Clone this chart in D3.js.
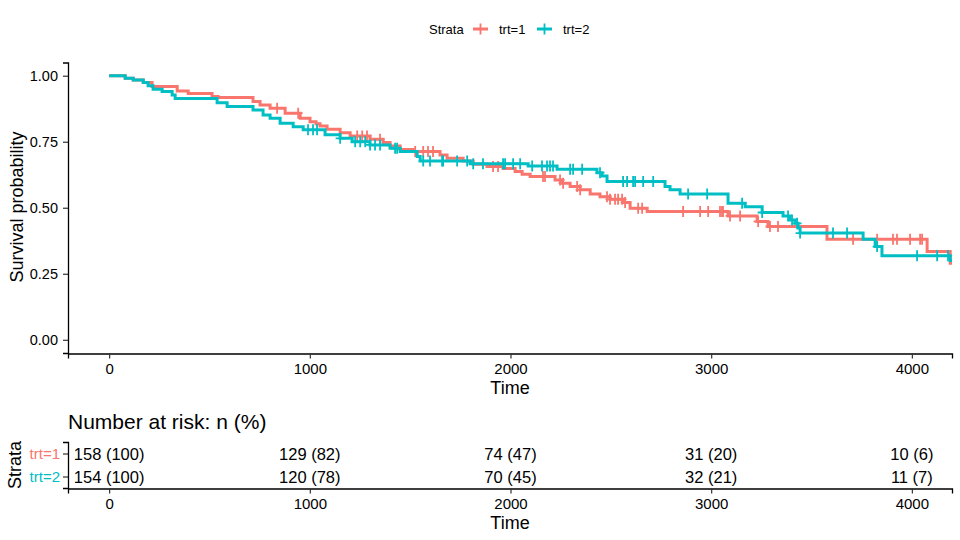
<!DOCTYPE html>
<html>
<head>
<meta charset="utf-8">
<script src="https://cdn.jsdelivr.net/npm/d3@7"></script>
<style>
body { margin: 0; background: #fff; }
svg { font-family: "Liberation Sans", Arial, sans-serif; }
</style>
</head>
<body>
<svg id="chart" width="960" height="540"></svg>
<script>
const strata = ['trt=1', 'trt=2'];
const colors = ['#F8766D', '#00BFC4'];
const xTicks = [0, 1000, 2000, 3000, 4000];
const yTicks = [0, 0.25, 0.5, 0.75, 1];

// step times and survival after each step
const trt1Time = [0, 80, 120, 170, 214, 339, 394, 513, 543, 717, 752, 802, 877, 952, 1001, 1031, 1051, 1086, 1151, 1201,
    1300, 1365, 1400, 1450, 1515, 1649, 1684, 1764, 1814, 1883, 1963, 2023, 2058, 2098, 2222, 2257, 2297, 2347, 2397, 2446,
    2496, 2561, 2596, 2681, 3084, 3229, 3283, 3577, 4076, 4191];
const trt1Surv = [1, 0.99, 0.984, 0.974, 0.959, 0.942, 0.933, 0.921, 0.917, 0.902, 0.889, 0.877, 0.858, 0.839, 0.826, 0.818, 0.81, 0.797, 0.784, 0.772,
    0.759, 0.747, 0.734, 0.721, 0.713, 0.70, 0.687, 0.677, 0.665, 0.656, 0.649, 0.637, 0.627, 0.618, 0.605, 0.593, 0.58, 0.568, 0.552, 0.542,
    0.532, 0.52, 0.498, 0.486, 0.469, 0.448, 0.429, 0.381, 0.334, 0.29];
const trt1Censor = [837, 942, 1236, 1261, 1285, 1350, 1525, 1565, 1589, 1614, 1913, 1938, 2162, 2172, 2247, 2262, 2332, 2347,
    2481, 2496, 2521, 2536, 2556, 2571, 2636, 2656, 2860, 2945, 2985, 3044, 3054, 3059, 3094, 3144, 3234, 3293, 3333,
    3707, 3827, 3906, 3926, 3991, 4041, 4051];

const trt2Time = [0, 80, 120, 170, 194, 219, 264, 314, 329, 538, 588, 717, 767, 802, 852, 917, 967, 1076, 1151, 1211,
    1300, 1400, 1450, 1535, 1550, 1799, 2088, 2232, 2431, 2456, 2481, 2770, 2795, 2845, 3084, 3169, 3254, 3358, 3393, 3418,
    3433, 3443, 3757, 3817, 3851, 4191];
const trt2Surv = [1, 0.99, 0.984, 0.974, 0.962, 0.949, 0.94, 0.927, 0.914, 0.898, 0.883, 0.87, 0.851, 0.839, 0.82, 0.807, 0.795, 0.776, 0.763, 0.75,
    0.738, 0.725, 0.713, 0.694, 0.677, 0.667, 0.658, 0.646, 0.633, 0.62, 0.599, 0.58, 0.568, 0.552, 0.517, 0.504, 0.482, 0.469, 0.454, 0.441,
    0.423, 0.404, 0.381, 0.353, 0.318, 0.30];
const trt2Censor = [991, 1016, 1036, 1151, 1226, 1251, 1276, 1300, 1325, 1350, 1425, 1435, 1565, 1599, 1659, 1664, 1734, 1784,
    1814, 1863, 1963, 1973, 2013, 2048, 2108, 2157, 2182, 2197, 2212, 2297, 2312, 2357, 2446, 2561, 2581, 2611, 2621, 2661,
    2711, 2885, 2980, 3154, 3254, 3383, 3403, 3428, 3443, 3607, 3677, 3827, 4026, 4126, 4180];

// number at risk table
const riskTimes = [0, 1000, 2000, 3000, 4000];
const risk1N = [158, 129, 74, 31, 10];
const risk1Pct = [100, 82, 47, 20, 6];
const risk2N = [154, 120, 70, 32, 11];
const risk2Pct = [100, 78, 45, 21, 7];

const curves = [
    { time: trt1Time, surv: trt1Surv, censor: trt1Censor },
    { time: trt2Time, surv: trt2Surv, censor: trt2Censor }
];
const risks = [
    { n: risk1N, pct: risk1Pct },
    { n: risk2N, pct: risk2Pct }
];

const svg = d3.select('#chart');

const x = d3.scaleLinear().domain([-205, 4200]).range([68, 952]);
const y = d3.scaleLinear().domain([-0.05, 1.05]).range([353, 62.5]);

// clip path for panel
svg.append('clipPath')
    .attr('id', 'panel')
    .append('rect')
    .attr('x', 68).attr('y', 62.5)
    .attr('width', 884).attr('height', 290.5);

const styleAxis = size => g => {
    g.select('.domain').attr('stroke', '#000').attr('stroke-width', 1.3);
    g.selectAll('.tick line').attr('stroke', '#333').attr('stroke-width', 1.2);
    g.selectAll('.tick text').attr('fill', '#000').style('font-size', size + 'px');
};

// main axes
svg.append('g')
    .attr('transform', 'translate(0,353.5)')
    .call(d3.axisBottom(x).tickValues(xTicks).tickFormat(d3.format('d')).tickSizeOuter(0).tickSize(5).tickPadding(5))
    .call(styleAxis(15));

svg.append('g')
    .attr('transform', 'translate(68,0)')
    .call(d3.axisLeft(y).tickValues(yTicks).tickFormat(d3.format('.2f')).tickSizeOuter(0).tickSize(5).tickPadding(5))
    .call(styleAxis(14.5));

svg.append('text')
    .attr('x', 510).attr('y', 388)
    .attr('text-anchor', 'middle').attr('dominant-baseline', 'central')
    .style('font-size', '18px')
    .text('Time');

svg.append('text')
    .attr('transform', 'translate(17,207)rotate(-90)')
    .attr('text-anchor', 'middle').attr('dominant-baseline', 'central')
    .style('font-size', '18px')
    .text('Survival probability');

// curves
const line = d3.line()
    .x(d => x(d[0]))
    .y(d => y(d[1]))
    .curve(d3.curveStepAfter);

const plot = svg.append('g').attr('clip-path', 'url(#panel)');
const cross = 'M-4.5,0H4.5M0,-5.5V5.5';

curves.forEach((c, i) => {
    const pts = c.time.map((t, k) => [t, c.surv[k]]);
    pts.push([4400, c.surv[c.surv.length - 1]]);

    plot.append('path')
        .datum(pts)
        .attr('fill', 'none')
        .attr('stroke', colors[i])
        .attr('stroke-width', 3)
        .attr('d', line);

    const survAt = t => c.surv[d3.bisectRight(c.time, t) - 1];

    plot.append('g')
        .selectAll('path')
        .data(c.censor)
        .enter().append('path')
        .attr('transform', t => `translate(${x(t)},${y(survAt(t))})`)
        .attr('d', cross)
        .attr('stroke', colors[i])
        .attr('stroke-width', 1.8)
        .attr('fill', 'none');
});

// legend
const legend = svg.append('g').style('font-size', '13px');
legend.append('text')
    .attr('x', 429).attr('y', 29)
    .attr('dominant-baseline', 'central')
    .text('Strata');
const keyX = [473, 537];
strata.forEach((s, i) => {
    const k = legend.append('g').attr('transform', `translate(${keyX[i]},29)`);
    k.append('line')
        .attr('x1', 0).attr('x2', 15)
        .attr('stroke', colors[i]).attr('stroke-width', 3);
    k.append('path')
        .attr('transform', 'translate(7.5,0)')
        .attr('d', cross)
        .attr('stroke', colors[i]).attr('stroke-width', 1.8);
    k.append('text')
        .attr('x', 26).attr('dominant-baseline', 'central')
        .text(s);
});

// risk table
const yr = d3.scalePoint().domain(strata).range([442, 488]).padding(0.5);

svg.append('text')
    .attr('x', 68).attr('y', 421)
    .attr('dominant-baseline', 'central')
    .style('font-size', '21px')
    .text('Number at risk: n (%)');

svg.append('g')
    .attr('transform', 'translate(0,488.5)')
    .call(d3.axisBottom(x).tickValues(xTicks).tickFormat(d3.format('d')).tickSizeOuter(0).tickSize(5).tickPadding(5))
    .call(styleAxis(15));

const ry = svg.append('g')
    .attr('transform', 'translate(68,0)')
    .call(d3.axisLeft(yr).tickSizeOuter(0).tickSize(5).tickPadding(3))
    .call(styleAxis(15));
ry.selectAll('.tick text')
    .attr('fill', (d, i) => colors[i]);

svg.append('text')
    .attr('x', 510).attr('y', 523)
    .attr('text-anchor', 'middle').attr('dominant-baseline', 'central')
    .style('font-size', '18px')
    .text('Time');

svg.append('text')
    .attr('transform', 'translate(15,465)rotate(-90)')
    .attr('text-anchor', 'middle').attr('dominant-baseline', 'central')
    .style('font-size', '18px')
    .text('Strata');

risks.forEach((r, i) => {
    svg.append('g')
        .selectAll('text')
        .data(riskTimes)
        .enter().append('text')
        .attr('x', d => x(d))
        .attr('y', yr(strata[i]))
        .attr('text-anchor', 'middle')
        .attr('dominant-baseline', 'central')
        .style('font-size', '16.5px')
        .text((d, k) => `${r.n[k]} (${r.pct[k]})`);
});
</script>
</body>
</html>
